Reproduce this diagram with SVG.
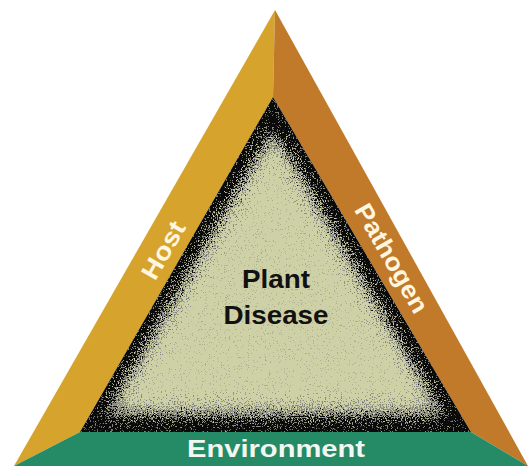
<svg xmlns="http://www.w3.org/2000/svg" width="528" height="466" viewBox="0 0 528 466">
  <style>
    .lbl { font-family: "Liberation Sans", Arial, sans-serif; font-weight: bold; }
    .side { fill: #FFF6E0; font-size: 25px; }
    .center { fill: #111111; font-size: 25px; }
    .env { fill: #F2F7F2; font-size: 24px; }
  </style>
  <defs>
    <clipPath id="innerClip">
      <polygon points="273,97 80,432 471,432"/>
    </clipPath>
    <filter id="speckKhaki" x="-15%" y="-15%" width="130%" height="130%" color-interpolation-filters="sRGB">
      <feGaussianBlur in="SourceAlpha" stdDeviation="9" result="ba"/>
      <feTurbulence type="fractalNoise" baseFrequency="0.75" numOctaves="2" seed="4" result="n"/>
      <feColorMatrix in="n" type="matrix" values="0 0 0 0 0  0 0 0 0 0  0 0 0 0 0  2.5 0 0 0 -0.75" result="na"/>
      <feComposite in="ba" in2="na" operator="arithmetic" k1="0" k2="1" k3="1" k4="-0.5" result="sum"/>
      <feComponentTransfer in="sum" result="mask">
        <feFuncA type="linear" slope="8" intercept="-3.5"/>
      </feComponentTransfer>
      <feFlood flood-color="#CED0A6"/>
      <feComposite in2="mask" operator="in"/>
    </filter>
    <filter id="speckGray" x="-15%" y="-15%" width="130%" height="130%" color-interpolation-filters="sRGB">
      <feGaussianBlur in="SourceAlpha" stdDeviation="7" result="ba"/>
      <feTurbulence type="fractalNoise" baseFrequency="0.8" numOctaves="2" seed="11" result="n"/>
      <feColorMatrix in="n" type="matrix" values="0 0 0 0 0  0 0 0 0 0  0 0 0 0 0  2.5 0 0 0 -0.75" result="na"/>
      <feComposite in="ba" in2="na" operator="arithmetic" k1="0" k2="1" k3="1" k4="-0.45" result="sum"/>
      <feComponentTransfer in="sum" result="mask">
        <feFuncA type="linear" slope="8" intercept="-3.5"/>
      </feComponentTransfer>
      <feFlood flood-color="#8A8C84"/>
      <feComposite in2="mask" operator="in"/>
    </filter>
  </defs>

  <g id="host">
    <polygon points="275,10 273,97 80,432 14,466" fill="#D6A42C"/>
    <text class="lbl side" x="0" y="0" text-anchor="middle" textLength="63" lengthAdjust="spacingAndGlyphs" transform="translate(163,250) rotate(-60) translate(0,9)">Host</text>
  </g>

  <g id="pathogen">
    <polygon points="275,10 528,466 471,432 273,97" fill="#C17A2A"/>
    <text class="lbl side" x="0" y="0" text-anchor="middle" textLength="122" lengthAdjust="spacingAndGlyphs" transform="translate(392,258) rotate(60) translate(0,9)">Pathogen</text>
  </g>

  <g id="environment">
    <polygon points="80,432 471,432 528,466 14,466" fill="#248B66"/>
    <text class="lbl env" x="276" y="457" text-anchor="middle" textLength="178" lengthAdjust="spacingAndGlyphs">Environment</text>
  </g>

  <g id="disease">
    <polygon points="273,97 80,432 471,432" fill="#0A0A0A"/>
    <g clip-path="url(#innerClip)">
      <polygon points="273,130 104,416 445,416" fill="#000" filter="url(#speckGray)"/>
      <polygon points="273,138 116,408 434,408" fill="#000" filter="url(#speckKhaki)"/>
    </g>
    <text class="lbl center" x="276" y="288" text-anchor="middle" textLength="68" lengthAdjust="spacingAndGlyphs">Plant</text>
    <text class="lbl center" x="276" y="324" text-anchor="middle" textLength="105" lengthAdjust="spacingAndGlyphs">Disease</text>
  </g>

  <g id="connectors"/>
</svg>
